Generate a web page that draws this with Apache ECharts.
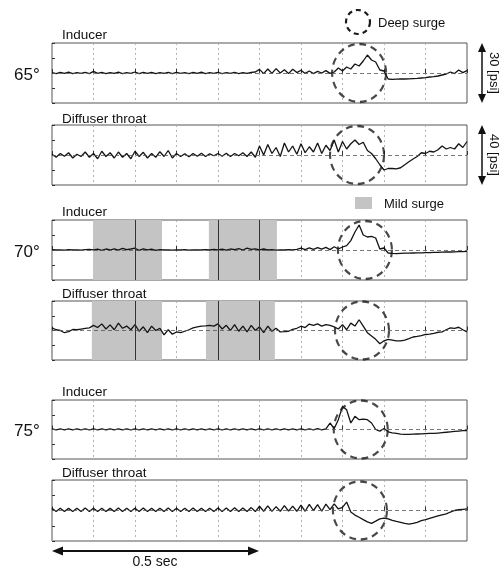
<!DOCTYPE html>
<html>
<head>
<meta charset="utf-8">
<script src="https://cdn.jsdelivr.net/npm/echarts@6.0.0/dist/echarts.min.js"></script>
<style>
  html, body { margin: 0; padding: 0; background: #fff; }
  #chart { width: 502px; height: 569px; }
</style>
</head>
<body>
<div id="chart"></div>
<script>
'use strict';

// traces are sampled every 10 ms, 0 .. 1 s
var SAMPLE_DT = 0.01;

// pressure fluctuation [psi]
var inducer65 = [
  0.2, -0.3, 0.3, -0.2, 0.4, -0.3, 0.2, -0.2, 0.3, -0.3,
  0.8, -0.2, 0.3, -0.3, 0.2, -0.2, 0.4, -0.3, 0.2, -0.2,
  0.5, -0.3, 0.3, -0.2, 0.3, -0.3, 0.2, -0.2, 0.3, -0.3,
  0.3, -0.2, 0.2, -0.3, 0.3, -0.2, 0.4, -0.3, 0.2, -0.2,
  0.3, -0.3, 0.2, -0.2, 0.3, -0.3, 0.2, -0.2, 0.3, 0.5,
  1.8, -0.3, 2.0, -0.2, 2.2, 0, 1.6, -0.3, 1.9, 0.2,
  1.4, -0.2, 1.0, -0.3, 0.8, 0, 1.2, -0.2, 0.5, 2.5,
  1.0, 3.0, 2.0, 4.5, 3.5, 6.0, 9.0, 6.5, 5.5, 1.5,
  1.0, -3.0, -3.2, -3.1, -3.0, -3.0, -2.9, -2.8, -2.7, -2.5,
  -2.3, -2.0, -1.8, -1.5, -1.0, -0.5, 0.5, -0.3, 1.5, 0.2, 1.2
];
var diffuser65 = [
  0.5, -1.5, 1.0, -0.8, 1.5, -2.0, 0.5, -1.0, 2.0, -1.5,
  1.0, -2.5, 2.5, -1.0, 1.5, -2.0, 2.0, -1.5, 1.0, -2.5,
  2.5, -1.0, 1.8, -2.0, 1.0, -1.5, 2.2, -1.0, 3.0, -2.0,
  1.0, -1.0, 0.8, -1.2, 1.0, -0.8, 1.2, -1.0, 0.8, -0.5,
  1.0, -0.8, 1.2, -1.0, 1.0, -0.5, 1.5, -1.0, 2.0, -1.5,
  6.0, 0, 7.0, 1.0, 5.0, -1.0, 8.0, 2.0, 6.0, 0.5,
  7.5, 1.5, 5.5, 2.0, 8.0, 1.0, 6.5, 3.0, 10.0, 2.0,
  9.0, 4.0, 7.5, 10.0, 7.0, 8.5, 3.0, 1.0, -2.5, -6.5,
  -10.0, -9.0, -9.0, -9.2, -8.5, -6.5, -4.5, -2.7, -1.0, 1.5,
  1.0, 2.5, 2.0, 3.5, 6.0, 4.0, 5.0, 4.0, 7.5, 5.0, 9.0
];
var inducer70 = [
  0.2, 0, 0.1, -0.1, 0.2, 0, 0.1, -0.1, 0.2, 0.3,
  0.1, 0.4, -0.2, 0.5, 0, 0.6, -0.1, 0.8, 0.2, 0.5,
  0.9, -0.2, 0.6, 0.1, 0.4, -0.2, 0.2, 0, 0.1, -0.1,
  0.1, 0, 0.2, -0.1, 0.1, 0, 0.1, 0.2, 0, 0.3,
  0.1, 0.4, -0.1, 0.5, 0.2, 0.7, 0, 0.9, 0.3, 0.6,
  0.1, 0.5, 0, 0.2, -0.1, 0.1, 0, 0.2, 0.1, 0.3,
  0.9, 0.2, 1.1, 0.3, 1.2, 0.4, 1.3, 0.2, 1.6, 0.5,
  1.5, 2.2, 4.7, 9.0, 12.5, 7.5, 6.5, 6.8, 6.0, 0.5,
  1.0, -1.5, -1.7, -1.8, -1.7, -1.6, -1.6, -1.5, -1.4, -1.4,
  -1.3, -1.3, -1.2, -1.2, -1.1, -1.0, -1.0, -0.9, -0.8, -0.8, -0.7
];
var diffuser70 = [
  1.8, 0.5, 0, -1.5, -0.8, 0.7, 0.5, 1.0, 1.5, 1.8,
  3.5, 2.0, 4.5, 1.0, 3.8, 0.5, 5.0, 1.5, 3.0, 0.5,
  4.0, -0.5, 2.5, -1.5, 3.0, 0, 1.5, -3.0, 0.5, -2.5,
  -1.0, -1.5, -0.5, 0.5, 1.8, 2.5, 3.0, 3.2, 3.5, 3.0,
  4.5, 1.0, 3.5, 0, 4.0, -0.5, 3.0, -1.0, 3.5, 0,
  2.5, -1.5, 3.0, -0.5, 1.5, -1.0, -0.8, -0.5, 0.7, 1.5,
  2.9, 2.0, 4.4, 3.5, 4.5, 3.0, 4.0, 3.5, 2.5, 1.0,
  4.0, 0.5, 5.0, 3.0, 7.3, 3.0, -1.5, -3.8, -6.0, -9.0,
  -7.0, -6.0, -6.5, -7.0, -7.0, -6.5, -5.5, -4.4, -4.0, -3.5,
  -2.7, -2.5, -2.0, -1.2, -0.9, 0.5, 1.8, 1.5, 2.2, 0.5, -1.0
];
var inducer75 = [
  0.3, -0.2, 0.3, -0.2, 0.3, -0.2, 0.3, -0.2, 0.3, -0.2,
  0.3, -0.2, 0.3, -0.2, 0.3, -0.2, 0.3, -0.2, 0.3, -0.2,
  0.3, -0.2, 0.3, -0.2, 0.3, -0.2, 0.3, -0.2, 0.3, -0.2,
  0.3, -0.2, 0.3, -0.2, 0.3, -0.2, 0.3, -0.2, 0.3, -0.2,
  0.3, -0.2, 0.3, -0.2, 0.3, -0.2, 0.3, -0.2, 0.3, -0.2,
  0.3, -0.2, 0.3, -0.2, 0.3, -0.2, 0.3, -0.2, 0.3, -0.2,
  0.3, -0.2, 0.3, -0.2, 0.4, -0.2, 0.3, 3.3, 0.5, 5.0,
  11.7, 10.0, 3.3, 6.7, 5.0, 5.3, 5.0, 3.3, 0, -0.8,
  0.5, -1.2, -1.7, -2.0, -2.3, -2.5, -2.5, -2.4, -2.3, -2.2,
  -2.1, -2.0, -2.0, -1.8, -1.6, -1.4, -1.2, -1.0, -0.8, -0.6, -0.5
];
var diffuser75 = [
  1.5, -0.7, 1.5, -0.7, 1.4, -0.6, 1.5, -0.7, 1.6, -0.7,
  1.5, -0.6, 1.5, -0.7, 1.4, -0.7, 1.6, -0.6, 1.5, -0.7,
  1.5, -0.7, 1.6, -0.6, 1.5, -0.7, 1.5, -0.7, 1.6, -0.6,
  1.5, -0.7, 1.5, -0.6, 1.6, -0.7, 1.5, -0.7, 1.5, -0.6,
  1.7, -0.7, 1.6, -0.6, 1.8, -0.7, 1.7, -0.6, 1.9, -0.7,
  2.8, -0.5, 3.0, -0.6, 2.5, -0.5, 3.2, -0.4, 2.9, -0.5,
  3.5, -0.5, 4.0, 0, 3.8, -0.5, 4.2, 0.5, 4.4, 1.0,
  2.0, 5.5, -1.0, -3.0, -4.4, -6.0, -7.5, -8.4, -7.0, -5.5,
  -5.0, -5.5, -6.5, -7.2, -7.8, -8.5, -8.9, -8.5, -7.8, -6.7,
  -6.0, -5.2, -4.4, -3.6, -2.8, -2.2, -1.0, 0, 0.5, 0.8, 1.1
];

// mild surge periods [s] and deep surge centres [s]
var mildSurgeInducer70 = [[0.099, 0.265], [0.378, 0.542]];
var mildSurgeDiffuser70 = [[0.096, 0.265], [0.371, 0.537]];
var deepSurgeAt = [0.74, 0.735, 0.754, 0.747, 0.744, 0.742];

var angleLabels = ['65°', '70°', '75°'];
var rangeLabels = ['30 [psi]', '40 [psi]'];

var FONT = '"Liberation Sans", Arial, sans-serif';

var panels = [
  { trace: inducer65, range: 15, top: 43, height: 60, title: 'Inducer', titleY: 36 },
  { trace: diffuser65, range: 20, top: 125, height: 60, title: 'Diffuser throat', titleY: 120 },
  { trace: inducer70, range: 15, top: 220, height: 60, title: 'Inducer', titleY: 213, shade: mildSurgeInducer70 },
  { trace: diffuser70, range: 20, top: 301, height: 59, title: 'Diffuser throat', titleY: 295, shade: mildSurgeDiffuser70 },
  { trace: inducer75, range: 15, top: 400, height: 59, title: 'Inducer', titleY: 393 },
  { trace: diffuser75, range: 20, top: 480, height: 61, title: 'Diffuser throat', titleY: 474 }
];

var grids = [], xAxes = [], yAxes = [], series = [], graphics = [];

panels.forEach(function(p, k) {
  grids.push({ left: 52, right: 35, top: p.top, height: p.height, show: true, borderColor: '#555', borderWidth: 1 });
  xAxes.push({
    gridIndex: k, type: 'value', min: 0, max: 1, interval: 0.1,
    axisLabel: { show: false },
    axisLine: { show: false },
    axisTick: { show: true, inside: true, length: 4, lineStyle: { color: '#333' } },
    splitLine: { show: true, lineStyle: { color: '#aaa', type: [2, 3], width: 0.9 } }
  });
  yAxes.push({
    gridIndex: k, type: 'value', min: -p.range, max: p.range, interval: p.range / 2,
    axisLabel: { show: false },
    axisLine: { show: false },
    axisTick: { show: true, inside: true, length: 3, lineStyle: { color: '#333' } },
    splitLine: { show: false }
  });

  var marks = [{ yAxis: 0 }];
  var s = {
    type: 'line', xAxisIndex: k, yAxisIndex: k,
    symbol: 'none', animation: false, z: 3,
    data: p.trace.map(function(v, i) { return [i * SAMPLE_DT, v]; }),
    lineStyle: { color: '#141414', width: 1.3 },
    markLine: {
      silent: true, symbol: 'none', label: { show: false }, animation: false,
      lineStyle: { color: '#555', type: [4, 3], width: 0.8 },
      data: marks
    }
  };
  if (p.shade) {
    s.markArea = {
      silent: true, animation: false,
      itemStyle: { color: '#c4c4c4' },
      data: p.shade.map(function(r) { return [{ xAxis: r[0] }, { xAxis: r[1] }]; })
    };
    // grid lines show dark through the stipple
    [0.2, 0.4, 0.5].forEach(function(t) {
      marks.push({ xAxis: t, lineStyle: { color: '#333', type: 'solid', width: 1 } });
    });
  }
  series.push(s);

  // dashed circle marking the deep surge event
  series.push({
    type: 'scatter', xAxisIndex: k, yAxisIndex: k, silent: true, animation: false, z: 4,
    symbol: 'circle', symbolSize: [54, 58],
    data: [[deepSurgeAt[k], 0]],
    itemStyle: { color: 'rgba(0,0,0,0)', borderColor: '#1a1a1a', borderWidth: 2.2, borderType: [7, 5] }
  });

  graphics.push({
    type: 'text', left: 62, top: p.titleY - 8,
    style: { text: p.title, font: '13.5px ' + FONT, fill: '#111' }
  });
});

// angle labels next to the inducer panels
[0, 2, 4].forEach(function(k, j) {
  var p = panels[k];
  graphics.push({
    type: 'text', x: 14, y: p.top + p.height / 2 + 2,
    style: { text: angleLabels[j], font: '17px ' + FONT, fill: '#111', verticalAlign: 'middle' }
  });
});

// scale arrows on the right of the 65° panels
function vArrow(x, y0, y1) {
  return [
    { type: 'line', shape: { x1: x, y1: y0 + 6, x2: x, y2: y1 - 6 }, style: { stroke: '#111', lineWidth: 1.5 } },
    { type: 'polygon', shape: { points: [[x, y0], [x - 4, y0 + 9], [x + 4, y0 + 9]] }, style: { fill: '#111' } },
    { type: 'polygon', shape: { points: [[x, y1], [x - 4, y1 - 9], [x + 4, y1 - 9]] }, style: { fill: '#111' } }
  ];
}
[0, 1].forEach(function(k) {
  var p = panels[k];
  graphics = graphics.concat(vArrow(482, p.top, p.top + p.height));
  graphics.push({
    type: 'text', x: 494, y: p.top + p.height / 2, rotation: -Math.PI / 2,
    style: { text: rangeLabels[k], font: '13px ' + FONT, fill: '#111', align: 'center', verticalAlign: 'middle' }
  });
});

// time scale arrow
graphics.push(
  { type: 'line', shape: { x1: 60, y1: 551, x2: 251, y2: 551 }, style: { stroke: '#111', lineWidth: 2 } },
  { type: 'polygon', shape: { points: [[52, 551], [63, 546.5], [63, 555.5]] }, style: { fill: '#111' } },
  { type: 'polygon', shape: { points: [[259, 551], [248, 546.5], [248, 555.5]] }, style: { fill: '#111' } },
  { type: 'text', x: 155, y: 562, style: { text: '0.5 sec', font: '14px ' + FONT, fill: '#111', align: 'center', verticalAlign: 'middle' } }
);

// legend: deep surge / mild surge
graphics.push(
  { type: 'circle', shape: { cx: 358, cy: 22, r: 12 }, style: { fill: 'none', stroke: '#1a1a1a', lineWidth: 2.2, lineDash: [5, 4] } },
  { type: 'text', x: 378, y: 23, style: { text: 'Deep surge', font: '13px ' + FONT, fill: '#111', verticalAlign: 'middle' } },
  { type: 'rect', shape: { x: 355, y: 197, width: 17, height: 12 }, style: { fill: '#c4c4c4' } },
  { type: 'text', x: 384, y: 204, style: { text: 'Mild surge', font: '13px ' + FONT, fill: '#111', verticalAlign: 'middle' } }
);

var chart = echarts.init(document.getElementById('chart'));
chart.setOption({
  animation: false,
  backgroundColor: '#fff',
  grid: grids,
  xAxis: xAxes,
  yAxis: yAxes,
  series: series,
  graphic: graphics
});
</script>
</body>
</html>
